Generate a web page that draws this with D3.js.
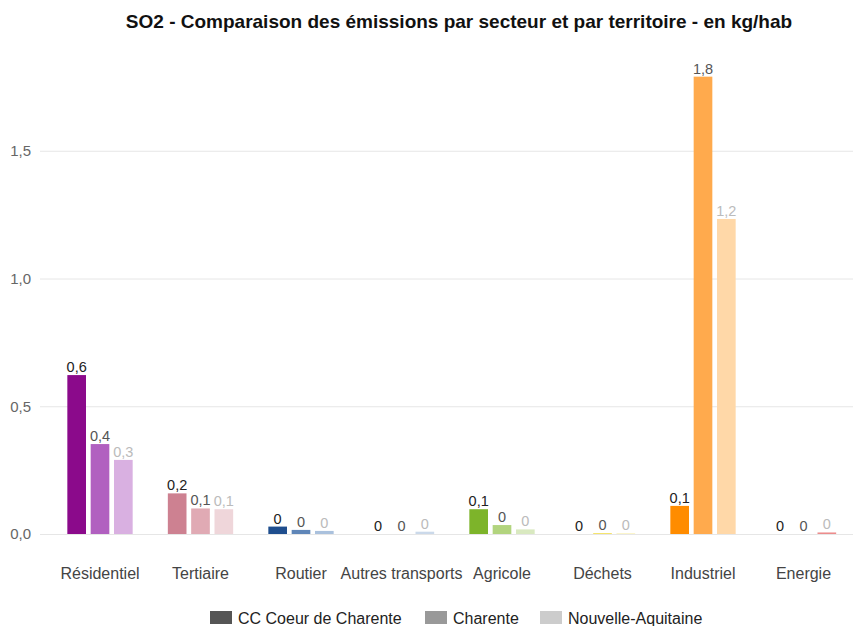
<!DOCTYPE html>
<html>
<head>
<meta charset="utf-8">
<script src="https://cdn.jsdelivr.net/npm/d3@7"></script>
<style>
  body { margin: 0; background: #fff; }
  svg { font-family: "Liberation Sans", Arial, sans-serif; }
</style>
</head>
<body>
<svg id="chart" width="853" height="626"></svg>
<script>
const title = "SO2 - Comparaison des émissions par secteur et par territoire - en kg/hab";
const categories = ["Résidentiel", "Tertiaire", "Routier", "Autres transports", "Agricole", "Déchets", "Industriel", "Energie"];
const series = ["CC Coeur de Charente", "Charente", "Nouvelle-Aquitaine"];
const valuesCC = [0.622, 0.159, 0.029, 0, 0.097, 0, 0.11, 0];
const valuesCharente = [0.352, 0.100, 0.016, 0, 0.035, 0.003, 1.79, 0];
const valuesNA = [0.290, 0.097, 0.012, 0.009, 0.018, 0.002, 1.233, 0.006];
const yTicks = [0, 0.5, 1.0, 1.5];
const categoryColors = [
  ["#8B0A8B", "#B160C0", "#D9B0E1"],
  ["#CD8191", "#E0AAB4", "#EFD6DA"],
  ["#1F4E8E", "#5F86B8", "#AAC1DD"],
  ["#3a5f8f", "#8aa6c8", "#CBD9EA"],
  ["#7DB42A", "#B2D47E", "#D9E9C0"],
  ["#E8C800", "#F2DC40", "#F8EC9A"],
  ["#FF8C00", "#FFAA4D", "#FFD8A8"],
  ["#D62828", "#E06060", "#EC8C8C"]
];
const legendColors = ["#555555", "#999999", "#cccccc"];
const labelColors = ["#222222", "#555555", "#bbbbbb"];

const allValues = [valuesCC, valuesCharente, valuesNA];
const data = categories.map((c, i) => ({
  cat: c, idx: i,
  vals: series.map((s, j) => ({ s, j, v: allValues[j][i], cat: c, ci: i }))
}));

const svg = d3.select("#chart");
const y = d3.scaleLinear().domain([0, 1.8]).range([534, 534 - 1.8 * 255.5]);
const x = d3.scaleBand().domain(categories).range([49.75, 853.75]).paddingInner(0.35).paddingOuter(0.175);
const xs = d3.scaleBand().domain(series).range([0, x.bandwidth()]).paddingInner(0.2).paddingOuter(0);

const fmt = v => {
  const r = Math.round(v * 10) / 10;
  return r === 0 ? "0" : d3.format(".1f")(r).replace(".", ",");
};

// title
svg.append("text").attr("x", 459).attr("y", 28).attr("text-anchor", "middle")
  .attr("font-size", 19).attr("font-weight", "bold").attr("fill", "#111").text(title);

// grid + y axis
const yAxis = d3.axisLeft(y).tickValues(yTicks).tickSize(-(853 - 40))
  .tickFormat(d => d3.format(".1f")(d).replace(".", ","));
const gy = svg.append("g").attr("transform", "translate(40,0)").call(yAxis);
gy.select(".domain").remove();
gy.selectAll(".tick line").attr("stroke", "#e6e6e6").attr("stroke-width", 1);
gy.selectAll(".tick text").attr("font-size", 15).attr("fill", "#666").attr("x", -9)
  .attr("font-family", "Liberation Sans, Arial, sans-serif");

// x axis labels
const xAxis = d3.axisBottom(x).tickSize(0).tickPadding(0);
const gx = svg.append("g").attr("transform", "translate(0,568)").call(xAxis);
gx.select(".domain").remove();
gx.selectAll(".tick text").attr("font-size", 16).attr("fill", "#444")
  .attr("font-family", "Liberation Sans, Arial, sans-serif");

// bars
const groups = svg.append("g").selectAll("g").data(data).join("g")
  .attr("transform", d => `translate(${x(d.cat)},0)`);
groups.selectAll("rect").data(d => d.vals).join("rect")
  .attr("x", d => xs(d.s)).attr("width", xs.bandwidth())
  .attr("y", d => y(d.v)).attr("height", d => y(0) - y(d.v))
  .attr("fill", d => categoryColors[d.ci][d.j]);
groups.selectAll("text").data(d => d.vals).join("text")
  .attr("x", d => xs(d.s) + xs.bandwidth() / 2).attr("y", d => y(d.v) - 3)
  .attr("text-anchor", "middle").attr("font-size", 14.5)
  .attr("fill", d => labelColors[d.j]).text(d => fmt(d.v));

// legend
const legendX = [210, 425, 540];
const lg = svg.append("g").selectAll("g").data(series).join("g")
  .attr("transform", (d, i) => `translate(${legendX[i]},611)`);
lg.append("rect").attr("width", 22).attr("height", 13).attr("fill", (d, i) => legendColors[i]);
lg.append("text").attr("x", 28).attr("y", 12.5).attr("font-size", 16).attr("fill", "#222").text(d => d);
</script>
</body>
</html>
